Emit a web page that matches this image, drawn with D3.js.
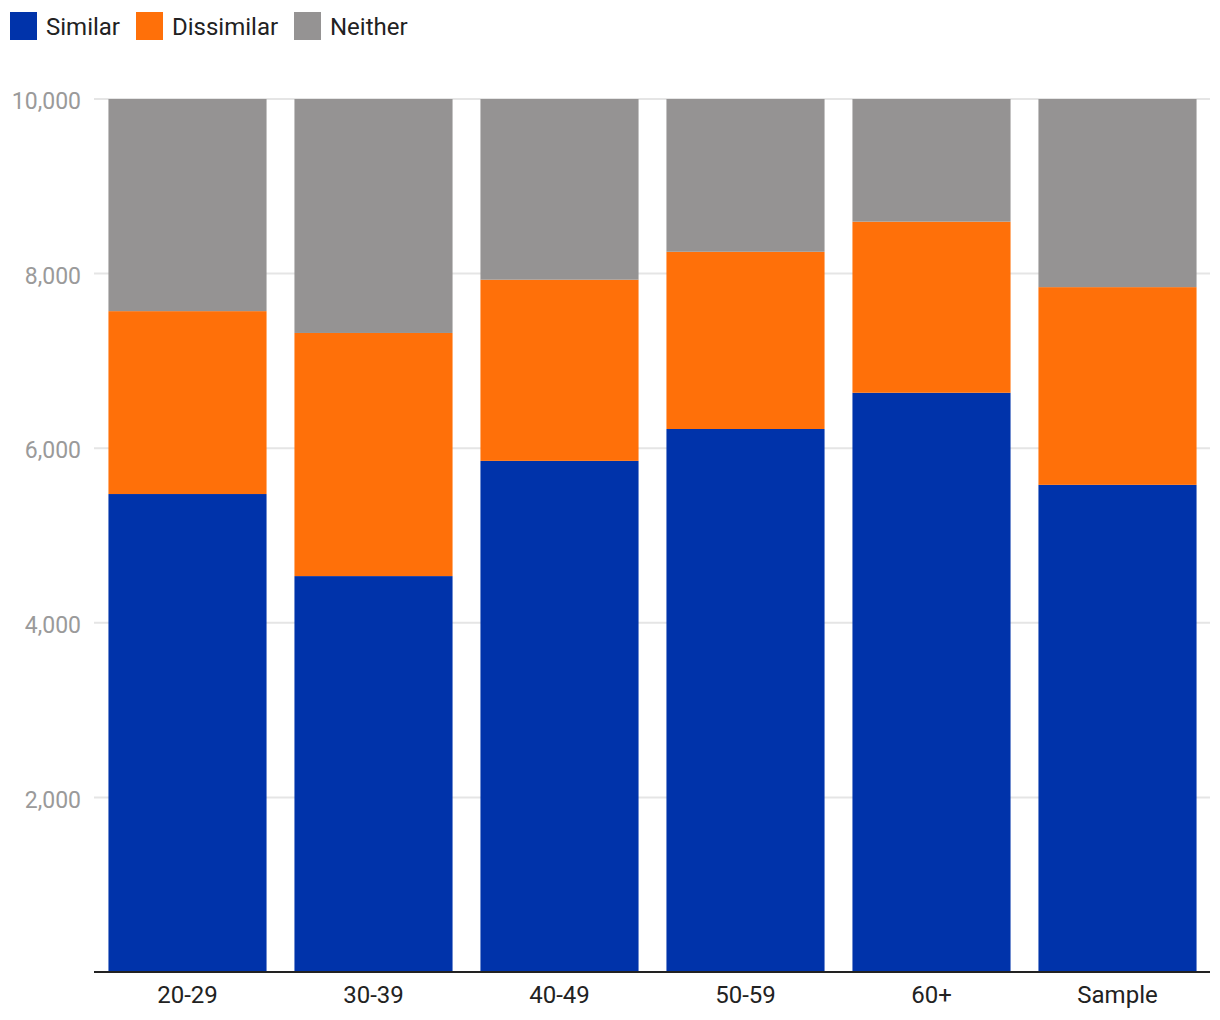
<!DOCTYPE html>
<html><head><meta charset="utf-8">
<script src="https://cdn.jsdelivr.net/npm/d3@7"></script>
<style>body{margin:0;background:#fff}svg{display:block;font-family:Roboto,sans-serif}</style>
</head><body><svg id="c" width="1220" height="1020"></svg>
<script>
const categories = ["20-29","30-39","40-49","50-59","60+","Sample"];
const similar    = [5475, 4535, 5855, 6220, 6635, 5580];
const dissimilar = [2095, 2785, 2075, 2030, 1960, 2265];
const neither    = [2430, 2680, 2070, 1750, 1405, 2155];
const seriesNames = ["Similar","Dissimilar","Neither"];
const colors = ["#0033aa","#ff7009","#959393"];
const yTicks = [2000,4000,6000,8000,10000];

const svg = d3.select("#c");
const x = d3.scaleBand().domain(categories).range([94.5,1210.5]).paddingInner(0.15).paddingOuter(0.075);
const y = d3.scaleLinear().domain([0,10000]).range([972,99]);

const rows = categories.map((c,i)=>({cat:c, Similar:similar[i], Dissimilar:dissimilar[i], Neither:neither[i]}));
const stack = d3.stack().keys(seriesNames)(rows);

// gridlines
svg.append("g").selectAll("line").data(yTicks).join("line")
  .attr("x1",94).attr("x2",1210).attr("y1",d=>y(d)).attr("y2",d=>y(d))
  .attr("stroke","#e5e5e5").attr("stroke-width",2);

// bars
svg.append("g").selectAll("g").data(stack).join("g")
  .attr("fill",(d,i)=>colors[i])
  .selectAll("rect").data(d=>d).join("rect")
  .attr("x",d=>x(d.data.cat)).attr("width",x.bandwidth())
  .attr("y",d=>y(d[1])).attr("height",d=>y(d[0])-y(d[1]));

// y axis labels
const yAxis = d3.axisLeft(y).tickValues(yTicks).tickSize(0).tickPadding(13).tickFormat(d3.format(","));
const gy = svg.append("g").attr("transform","translate(94,0)").call(yAxis);
gy.select(".domain").remove();
gy.selectAll("text").attr("fill","#9a9a9a").attr("font-size",23).attr("font-family","Roboto").attr("dy","0.42em");

// x axis
const xAxis = d3.axisBottom(x).tickSize(0).tickPadding(14);
const gx = svg.append("g").attr("transform","translate(0,972)").call(xAxis);
gx.select(".domain").attr("stroke","#222").attr("stroke-width",2).attr("d","M94,0H1210");
gx.selectAll("text").attr("fill","#222").attr("font-size",24).attr("font-family","Roboto");

// legend
const legendX = [10,136,294];
const lg = svg.append("g").selectAll("g").data(seriesNames).join("g")
  .attr("transform",(d,i)=>`translate(${legendX[i]},12)`);
lg.append("rect").attr("width",27).attr("height",28).attr("fill",(d,i)=>colors[i]);
lg.append("text").attr("x",36).attr("y",14).attr("dy","0.36em")
  .attr("font-size",24).attr("fill","#222").text(d=>d);
</script></body></html>
